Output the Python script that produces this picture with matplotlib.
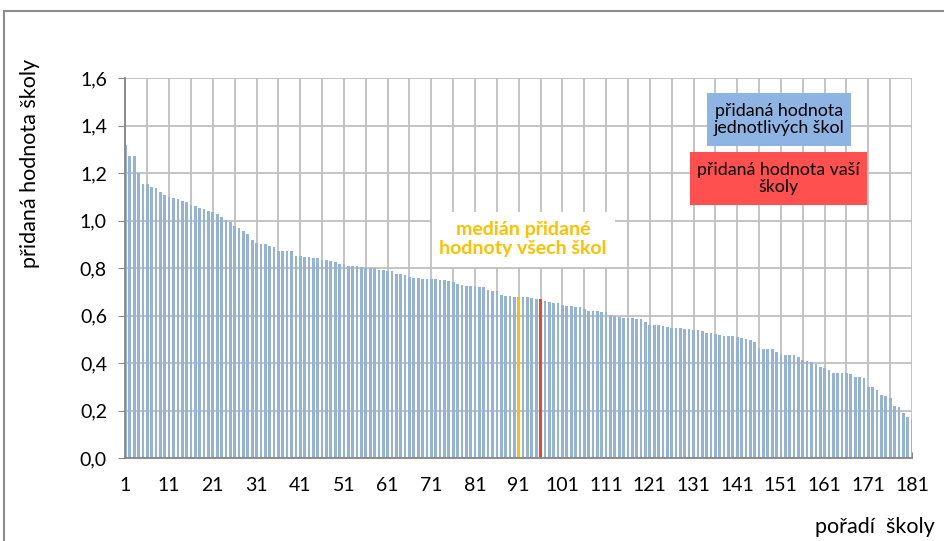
import matplotlib
matplotlib.use("Agg")
import matplotlib.pyplot as plt
from matplotlib.patches import Rectangle

plt.rcParams['font.family'] = ['Lato', 'DejaVu Sans']

# added value of each school, ordered by rank (1..181)
values = [
    1.32, 1.27, 1.27, 1.20, 1.155, 1.155, 1.142, 1.135, 1.12, 1.106,
    1.10, 1.093, 1.089, 1.083, 1.08, 1.065, 1.06, 1.051, 1.048, 1.04,
    1.035, 1.026, 1.013, 1.002, 0.995, 0.977, 0.967, 0.956, 0.942, 0.918,
    0.904, 0.90, 0.90, 0.891, 0.888, 0.873, 0.873, 0.87, 0.87, 0.852,
    0.85, 0.846, 0.845, 0.843, 0.843, 0.834, 0.832, 0.831, 0.824, 0.818,
    0.816, 0.81, 0.808, 0.808, 0.803, 0.80, 0.80, 0.80, 0.793, 0.79,
    0.788, 0.786, 0.776, 0.774, 0.77, 0.763, 0.759, 0.756, 0.754, 0.752,
    0.752, 0.752, 0.749, 0.749, 0.746, 0.739, 0.732, 0.729, 0.725, 0.724,
    0.721, 0.718, 0.718, 0.707, 0.703, 0.702, 0.688, 0.684, 0.681, 0.680,
    0.680, 0.678, 0.678, 0.675, 0.670, 0.668, 0.661, 0.657, 0.653, 0.653,
    0.644, 0.640, 0.640, 0.637, 0.634, 0.627, 0.620, 0.619, 0.618, 0.615,
    0.613, 0.601, 0.600, 0.594, 0.591, 0.589, 0.588, 0.587, 0.587, 0.573,
    0.560, 0.560, 0.560, 0.556, 0.553, 0.549, 0.547, 0.546, 0.542, 0.542,
    0.540, 0.538, 0.535, 0.525, 0.525, 0.522, 0.518, 0.514, 0.512, 0.512,
    0.511, 0.504, 0.502, 0.498, 0.490, 0.462, 0.459, 0.459, 0.457, 0.448,
    0.438, 0.435, 0.435, 0.433, 0.427, 0.413, 0.408, 0.405, 0.397, 0.382,
    0.378, 0.371, 0.360, 0.359, 0.358, 0.357, 0.355, 0.342, 0.342, 0.336,
    0.300, 0.298, 0.286, 0.264, 0.262, 0.251, 0.219, 0.213, 0.191, 0.174,
    0.165,
]
ranks = list(range(1, len(values) + 1))
median_rank = 91
school_rank = 96

y_ticks = [0.0, 0.2, 0.4, 0.6, 0.8, 1.0, 1.2, 1.4, 1.6]
y_labels = ['0,0', '0,2', '0,4', '0,6', '0,8', '1,0', '1,2', '1,4', '1,6']
x_ticks = list(range(1, 182, 5))
x_labels = [str(t) if (t - 1) % 10 == 0 else '' for t in x_ticks]

W, H = 944, 541


def fx(px):
    return px / W


def fy(py):
    return 1 - py / H


blue = '#95B3D7'
colors = []
for r in ranks:
    if r == median_rank:
        colors.append('#FFC000')
    elif r == school_rank:
        colors.append('#E8472E')
    else:
        colors.append(blue)

fig = plt.figure(figsize=(W / 100, H / 100), dpi=100)
ax = fig.add_axes([fx(125), fy(458), fx(912) - fx(125), fy(78) - fy(458)])

ax.bar(ranks, values, width=0.62, color=colors, zorder=2)

ax.set_xlim(0.9, 181)
ax.set_ylim(0, 1.6)
ax.set_yticks(y_ticks)
ax.set_yticklabels(y_labels)
ax.set_xticks(x_ticks)
ax.set_xticklabels(x_labels)

ax.grid(True, color='#BFBFBF', linewidth=1.3, zorder=0)
ax.set_axisbelow(True)
for s in ['top', 'right']:
    ax.spines[s].set_visible(False)
for s in ['left', 'bottom']:
    ax.spines[s].set_color('#868686')
    ax.spines[s].set_linewidth(1.3)
ax.tick_params(axis='y', direction='out', length=5, color='#868686',
               labelsize=14, pad=8)
ax.tick_params(axis='x', direction='in', length=4, color='#868686',
               labelsize=14, pad=14)

# outer chart border
fig.patches.append(Rectangle((fx(4), fy(560)), fx(960), fy(11) - fy(560),
                             transform=fig.transFigure, fill=False,
                             edgecolor='#8C8C8C', linewidth=1.5))

fig.text(fx(30), fy(163), 'přidaná hodnota školy', rotation=90,
         ha='center', va='center', fontsize=15.5)
fig.text(fx(935), fy(527), 'pořadí  školy', ha='right', va='center',
         fontsize=15.5)

# median label
fig.patches.append(Rectangle((fx(432), fy(267)), fx(615) - fx(432),
                             fy(212) - fy(267), transform=fig.transFigure,
                             facecolor='white', edgecolor='none', zorder=3))
fig.text(fx(523), fy(239), 'medián přidané\nhodnoty všech škol',
         ha='center', va='center', fontsize=14, fontweight='bold',
         color='#FFC000', linespacing=1.2, zorder=4)

# legend-like boxes
fig.patches.append(Rectangle((fx(707), fy(146)), fx(851) - fx(707),
                             fy(93) - fy(146), transform=fig.transFigure,
                             facecolor='#8DB4E2', edgecolor='none', zorder=3))
fig.text(fx(779), fy(119.5), 'přidaná hodnota\njednotlivých škol',
         ha='center', va='center', fontsize=12.8, linespacing=1.15, zorder=4)
fig.patches.append(Rectangle((fx(690), fy(205)), fx(867) - fx(690),
                             fy(152) - fy(205), transform=fig.transFigure,
                             facecolor='#FF5050', edgecolor='none', zorder=3))
fig.text(fx(778.5), fy(178.5), 'přidaná hodnota vaší\nškoly',
         ha='center', va='center', fontsize=12.8, linespacing=1.15, zorder=4)

fig.savefig('out.png', dpi=100)
